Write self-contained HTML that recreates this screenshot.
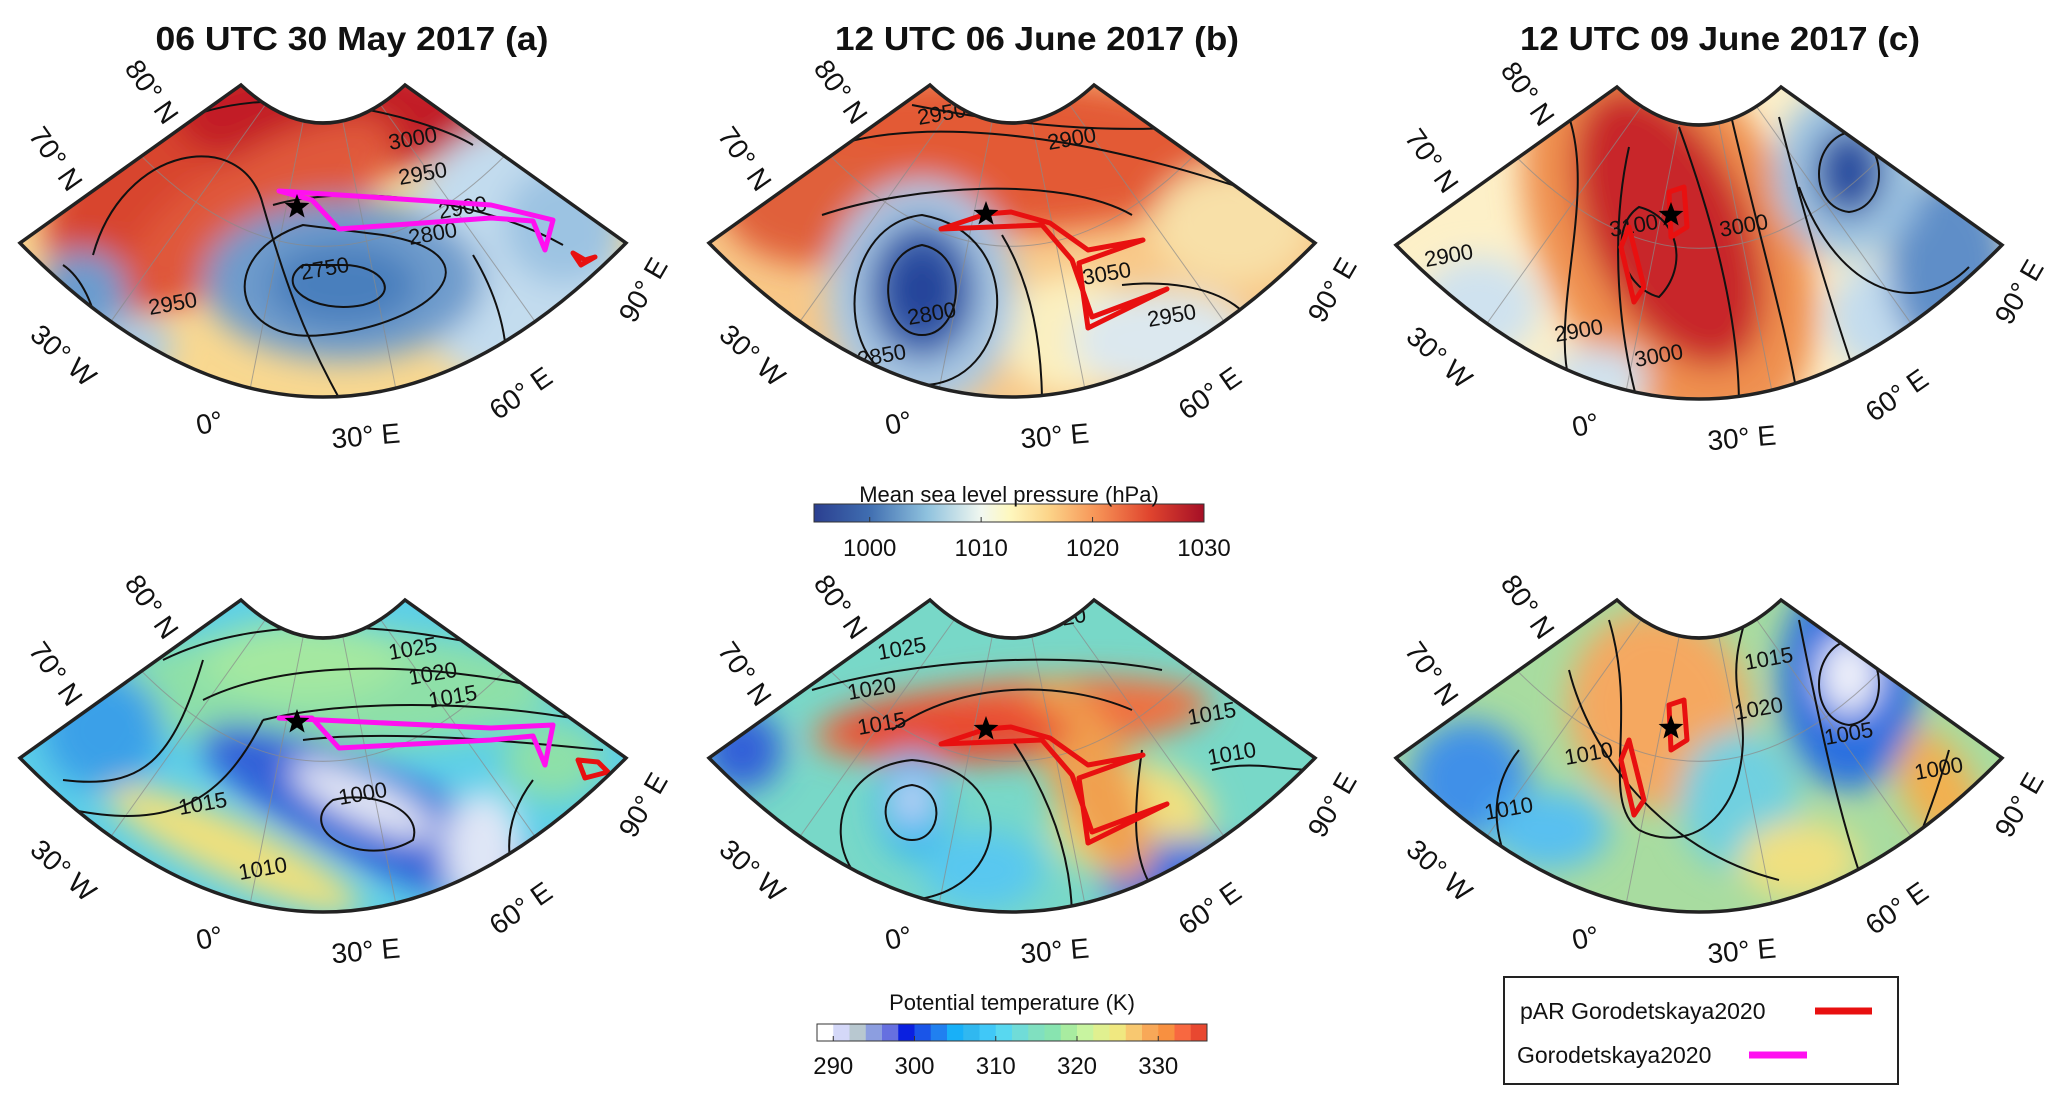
<!DOCTYPE html>
<html><head><meta charset="utf-8">
<style>
html,body{margin:0;padding:0;background:#fff;}
svg{display:block;font-family:"Liberation Sans",Arial,sans-serif;}
</style></head>
<body>
<svg id="fig" width="2067" height="1105" viewBox="0 0 2067 1105" xmlns="http://www.w3.org/2000/svg">
<defs>
<filter id="blur" x="-30%" y="-30%" width="160%" height="160%"><feGaussianBlur stdDeviation="16"/></filter>
<linearGradient id="mslpGrad" x1="0" x2="1" y1="0" y2="0">
<stop offset="0" stop-color="#2b3f90"/><stop offset="0.14" stop-color="#3f6db0"/>
<stop offset="0.29" stop-color="#8fc2de"/><stop offset="0.43" stop-color="#f2f8f0"/>
<stop offset="0.5" stop-color="#fef8c0"/><stop offset="0.6" stop-color="#fcd58a"/>
<stop offset="0.72" stop-color="#f79658"/><stop offset="0.86" stop-color="#e0452e"/>
<stop offset="1" stop-color="#a50f26"/>
</linearGradient>
</defs>
<g id="root"></g>
</svg>
<script>
// ---- colorbar data ----
const mslpTicks = [1000, 1010, 1020, 1030];
const mslpRange = [995, 1030];
const thetaTicks = [290, 300, 310, 320, 330];
const thetaBins = [288,290,292,294,296,298,300,302,304,306,308,310,312,314,316,318,320,322,324,326,328,330,332,334];
const thetaColors = ['#ffffff','#d4d8f8','#b8c8d0','#8c9ee0','#6670e0','#0a20e0','#1a55e8','#2080f0','#18b0f8','#30b8f0','#40c8f8','#58d8f0','#70dcd8','#80e0c0','#88e4b0','#a8eca0','#c8f4a0','#e0f090','#f0e880','#f8c870','#f8a858','#f89040','#f86840','#e84830'];

const NS = 'http://www.w3.org/2000/svg';
const root = document.getElementById('root');
function mk(tag, attrs, parent){
  const e = document.createElementNS(NS, tag);
  for (const k in attrs) e.setAttribute(k, attrs[k]);
  (parent||root).appendChild(e);
  return e;
}

// ---- panel definitions ----
const panels = [
 {id:'a-top', cx:323, top:85, bg:'#f9d890', title:'06 UTC  30 May 2017  (a)', tx:352, tw:393,
  blobs:[[-130,90,170,110,-40,'#d8452f'],[10,30,160,60,0,'#c21f27'],[-60,120,150,55,-30,'#e0583a'],
         [190,170,110,130,0,'#c3dcee'],[240,140,60,60,0,'#9cc3e2'],[20,195,140,80,0,'#6e9bcc'],[20,200,75,42,0,'#4a7fbd'],
         [-240,210,45,45,0,'#6b9ccf'],[-190,262,40,30,0,'#a9cbe6']],
  contours:['M-230,170 C-200,60 -80,40 -60,120 C-40,190 -20,250 20,320','M-150,40 C-60,-10 100,30 150,60','M-50,120 C20,100 150,110 240,160',
            'M-20,140 C-110,170 -90,260 0,250 C110,240 180,170 60,150 Z','M-20,180 C-50,200 -10,230 40,220 C80,210 60,180 20,180 Z','M150,170 C180,220 190,270 180,320','M-260,180 C-230,200 -225,250 -210,280'],
  nums:[['3000',90,55],['2950',100,90],['2900',140,124],['2800',110,150],['2750',2,185],['2950',-150,220]],
  mag:[[-44,106],[168,120],[230,135],[222,165],[210,136],[168,133],[16,144],[-11,115]],
  red:[[[250,168],[262,175],[272,172],[258,180]]], star:[-26,122]},
 {id:'b-top', cx:1012, top:85, bg:'#f8c888', title:'12 UTC  06 June 2017  (b)', tx:1037, tw:404,
  blobs:[[-50,70,290,80,0,'#e35a34'],[-200,120,90,60,0,'#e0603a'],[220,140,80,60,0,'#f8e0a8'],[60,250,70,60,0,'#fbf0c0'],
         [150,255,90,50,0,'#dce8ef'],[-90,210,95,115,0,'#a8c8e4'],[-90,205,55,70,0,'#3a62ad'],[-90,205,28,38,0,'#243f98']],
  contours:['M-200,70 C-120,30 50,40 250,110','M-100,20 C0,40 100,50 200,40','M-190,130 C-100,100 50,90 120,130','M-90,130 C-180,140 -180,300 -90,300 C0,300 20,150 -90,130 Z','M-90,160 C-140,170 -130,250 -90,250 C-50,250 -40,170 -90,160 Z','M-10,150 C20,200 30,260 30,320','M110,200 C200,190 280,230 230,300'],
  nums:[['2950',-70,30],['2900',60,55],['3050',95,190],['2800',-80,230],['2850',-130,272],['2950',160,232]],
  mag:null, red:[[[-71,144],[-26,129],[-1,127],[38,138],[76,165],[131,155],[67,178],[76,243],[155,204],[80,232],[60,175],[30,140]]], star:[-26,129]},
 {id:'c-top', cx:1699, top:87, bg:'#fdf0c8', title:'12 UTC  09 June 2017  (c)', tx:1720, tw:400,
  blobs:[[-30,150,130,210,-25,'#ef9050'],[-30,140,80,150,-25,'#c8252a'],[-220,220,60,50,0,'#cfe2ef'],[-100,290,50,30,0,'#cfe2ef'],
         [200,230,70,60,0,'#c3dcee'],[250,180,60,90,0,'#5e8ec8'],[150,85,75,85,0,'#9cc3e2'],[150,85,35,45,0,'#2c50a0']],
  contours:['M-130,30 C-100,120 -160,250 -120,320','M-70,60 C-90,150 -80,250 -60,320','M-20,40 C20,150 40,240 40,320','M30,20 C60,150 90,250 100,320','M80,30 C110,150 140,240 160,300','M-60,120 C-90,140 -80,200 -40,210 C-10,180 -20,130 -60,120 Z','M150,45 C110,55 110,120 150,125 C190,120 190,55 150,45 Z','M100,100 C140,210 220,230 270,180'],
  nums:[['3100',-65,140],['3000',45,140],['2900',-250,170],['2900',-120,245],['3000',-40,270]],
  mag:null, red:[[[-70,140],[-55,200],[-65,215],[-78,160]],[[-30,105],[-15,100],[-12,140],[-28,150]]], star:[-28,128]},
 {id:'a-bot', cx:323, top:600, bg:'#5ccfe8', title:null,
  blobs:[[0,90,230,60,0,'#8ee0a8'],[-20,60,100,40,0,'#a4e8a0'],[-90,250,140,30,25,'#f0e07c'],[-220,130,60,60,0,'#3aa0e8'],[230,160,50,40,0,'#8ee0a8'],
         [60,220,200,50,25,'#3060d8'],[40,200,80,22,25,'#e6eaf6'],[160,250,40,60,0,'#dfe6f6']],
  contours:['M-160,60 C-60,10 100,20 250,70','M-120,100 C-40,60 100,60 230,90','M-60,120 C20,100 150,100 260,120','M-20,140 C60,130 180,140 280,150','M-120,60 C-150,160 -180,190 -260,180','M-60,120 C-100,200 -150,230 -250,210','M10,200 C-30,230 40,270 90,240 C100,210 50,190 10,200 Z','M210,180 C180,220 180,260 200,300'],
  nums:[['1025',90,50],['1020',110,75],['1015',130,98],['1000',40,195],['1015',-120,205],['1010',-60,270]],
  mag:[[-44,118],[168,128],[230,125],[222,165],[210,136],[168,140],[16,148],[-11,118]],
  red:[[[255,160],[275,162],[285,172],[262,178]]], star:[-26,122]},
 {id:'b-bot', cx:1012, top:600, bg:'#78d8c8', title:null,
  blobs:[[120,220,80,60,0,'#f0e080'],[-30,270,60,40,0,'#58c8f0'],[170,280,80,40,0,'#3070e0'],[-270,150,40,40,0,'#3060d8'],
         [0,120,200,40,-5,'#f07040'],[80,180,40,110,-25,'#f0a050'],[-60,130,120,30,0,'#e84830'],[-100,205,35,55,0,'#3ab8f0'],[-100,200,15,25,0,'#cfd8f4']],
  contours:['M-200,90 C-100,60 50,50 150,70','M-120,130 C-50,80 50,80 120,110','M-100,160 C-200,170 -190,300 -100,300 C0,290 10,170 -100,160 Z','M-100,185 C-140,190 -130,240 -100,240 C-70,240 -65,190 -100,185 Z','M0,140 C40,200 60,260 60,320','M130,150 C120,220 120,270 150,300','M200,170 C240,160 270,170 300,170'],
  nums:[['1025',-110,50],['1020',-140,90],['1015',-130,125],['1015',200,115],['1010',220,155],['1020',50,20]],
  mag:null, red:[[[-71,144],[-26,129],[-1,127],[38,138],[76,165],[131,155],[67,178],[76,243],[155,204],[80,232],[60,175],[30,140]]], star:[-26,129]},
 {id:'c-bot', cx:1699, top:600, bg:'#a8dca0', title:null,
  blobs:[[-40,110,90,100,-15,'#f5a860'],[40,200,60,70,0,'#70d0e0'],[-230,180,60,60,0,'#4090e8'],[240,190,35,70,-30,'#f2b050'],[-150,230,60,40,0,'#58c0f0'],[100,260,60,40,0,'#f0e080'],
         [150,80,70,110,0,'#2c70e0'],[150,75,30,40,0,'#eef0fa']],
  contours:['M-90,20 C-60,120 -100,200 -60,230 C0,260 60,200 40,100 C30,50 50,20 50,0','M-130,70 C-110,150 -40,250 80,280','M100,20 C120,120 140,220 170,300','M150,40 C110,50 110,120 150,125 C190,120 190,50 150,40 Z','M250,150 C230,220 210,260 190,310','M-180,150 C-220,200 -200,260 -170,300'],
  nums:[['1015',70,60],['1020',60,110],['1005',150,135],['1010',-110,155],['1000',240,170],['1010',-190,210]],
  mag:null, red:[[[-70,140],[-55,200],[-65,215],[-78,160]],[[-30,105],[-15,100],[-12,140],[-28,150]]], star:[-28,128]}
];

function sectorPath(cx, top){
  return `M${cx-82},${top} Q${cx},${top+76} ${cx+82},${top} L${cx+303},${top+158} Q${cx},${top+466} ${cx-303},${top+158} Z`;
}
function q(p0,p1,p2,t){return (1-t)*(1-t)*p0+2*(1-t)*t*p1+t*t*p2;}

function starPath(x,y,r){
  let d='';
  for(let i=0;i<10;i++){
    const a=-Math.PI/2+i*Math.PI/5, rr=i%2?r*0.42:r;
    d+=(i?'L':'M')+(x+rr*Math.cos(a)).toFixed(1)+','+(y+rr*Math.sin(a)).toFixed(1);
  }
  return d+'Z';
}

panels.forEach((p,idx)=>{
  const g = mk('g',{});
  
  
  const cp = mk('clipPath',{id:'clip'+idx}, g);
  mk('path',{d:sectorPath(p.cx,p.top)}, cp);
  const inner = mk('g',{'clip-path':`url(#clip${idx})`}, g);
  const bg = mk('path',{d:sectorPath(p.cx,p.top), fill:p.bg}, inner);
  
  
  const bl = mk('g',{filter:'url(#blur)'}, inner);
  p.blobs.forEach(b=>{
    const e = mk('ellipse',{cx:p.cx+b[0], cy:p.top+b[1], rx:b[2], ry:b[3], fill:b[5], transform:`rotate(${b[4]} ${p.cx+b[0]} ${p.top+b[1]})`}, bl);
    
    
  });
  const gr = mk('g',{stroke:'#8a8a8a','stroke-width':1,fill:'none',opacity:0.7}, inner);
  [0.15,0.38,0.62,0.85].forEach(t=>{
    const ix=q(p.cx-82,p.cx,p.cx+82,t), iy=q(p.top,p.top+76,p.top,t);
    const ox=q(p.cx-303,p.cx,p.cx+303,t), oy=q(p.top+158,p.top+466,p.top+158,t);
    mk('line',{x1:ix,y1:iy,x2:ox,y2:oy}, gr);
  });
  [0.45].forEach(s=>{
    const lx=(p.cx-82)+s*(-221), ly=p.top+s*158, rx=(p.cx+82)+s*221;
    const sag=38+s*(154-38);
    mk('path',{d:`M${lx},${ly} Q${p.cx},${ly+2*sag} ${rx},${ly}`}, gr);
  });
  const cg = mk('g',{stroke:'#111',fill:'none','stroke-width':2}, inner);
  
  
  p.contours.forEach(d=>{
    const t = d.replace(/(-?\d+),(-?\d+)/g,(m,a,b)=>(p.cx+ +a)+','+(p.top+ +b));
    mk('path',{d:t}, cg);
  });
  p.nums.forEach(n=>{
    const t = mk('text',{x:p.cx+n[1], y:p.top+n[2], 'font-size':22, 'text-anchor':'middle', 'dominant-baseline':'middle', fill:'#111', transform:`rotate(-10 ${p.cx+n[1]} ${p.top+n[2]})`}, inner);
    t.textContent = n[0];
    
    
  });
  if(p.mag){
    const m = mk('polygon',{points:p.mag.map(v=>(p.cx+v[0])+','+(p.top+v[1])).join(' '), fill:'none', stroke:'#ff10f0','stroke-width':5,'stroke-linejoin':'round'}, inner);
    
    
  }
  p.red.forEach(r=>{
    const m = mk('polygon',{points:r.map(v=>(p.cx+v[0])+','+(p.top+v[1])).join(' '), fill:'none', stroke:'#e81010','stroke-width':5,'stroke-linejoin':'round'}, inner);
    
    
  });
  const st = mk('path',{d:starPath(p.cx+p.star[0], p.top+p.star[1], 13), fill:'#000'}, g);
  
  
  const fr = mk('path',{d:sectorPath(p.cx,p.top), fill:'none', stroke:'#222','stroke-width':3.5}, g);
  
  
  const lt = p.cx-323, tp = p.top-85;
  const labs = [['80° N',150,93,55],['70° N',54,160,55],['30° W',62,357,42],['0°',210,425,-12],['30° E',366,438,-5],['60° E',522,395,-35],['90° E',645,291,-60]];
  labs.forEach(l=>{
    const t = mk('text',{x:l[1]+lt, y:l[2]+tp, 'font-size':28, 'text-anchor':'middle','dominant-baseline':'middle', fill:'#111', transform:`rotate(${l[3]} ${l[1]+lt} ${l[2]+tp})`}, g);
    t.textContent = l[0];
    
    
  });
  if(p.title){
    const t = mk('text',{x:p.tx, y:50, 'font-size':33,'font-weight':'bold','text-anchor':'middle', fill:'#111', textLength:p.tw, lengthAdjust:'spacingAndGlyphs'}, g);
    t.textContent = p.title;
    
    
  }
});

// ---- MSLP colorbar ----
const mb = mk('g',{});


const mx0=814, mx1=1204;
const mX = v => mx0 + (v-mslpRange[0])/(mslpRange[1]-mslpRange[0])*(mx1-mx0);
mk('rect',{x:mx0,y:504,width:mx1-mx0,height:18,fill:'url(#mslpGrad)',stroke:'#333','stroke-width':1}, mb);
const mt = mk('text',{x:(mx0+mx1)/2,y:502,'font-size':22,'text-anchor':'middle',fill:'#111'}, mb);
mt.textContent='Mean sea level pressure (hPa)';


mslpTicks.forEach(v=>{
  mk('line',{x1:mX(v),x2:mX(v),y1:517,y2:522,stroke:'#333'}, mb);
  const t = mk('text',{x:mX(v),y:556,'font-size':24,'text-anchor':'middle',fill:'#111'}, mb);
  t.textContent = v;
  
  
});

// ---- theta colorbar ----
const tb = mk('g',{});


const tx0=817, tx1=1207, tmin=288, tmax=336;
const tX = v => tx0 + (v-tmin)/(tmax-tmin)*(tx1-tx0);
thetaBins.forEach((v,i)=>{
  const r = mk('rect',{x:tX(v),y:1024,width:tX(v+2)-tX(v)+0.5,height:17,fill:thetaColors[i]}, tb);
  
  
});
mk('rect',{x:tx0,y:1024,width:tx1-tx0,height:17,fill:'none',stroke:'#333','stroke-width':1}, tb);
const tt = mk('text',{x:(tx0+tx1)/2,y:1010,'font-size':22,'text-anchor':'middle',fill:'#111'}, tb);
tt.textContent='Potential temperature (K)';


thetaTicks.forEach(v=>{
  mk('line',{x1:tX(v),x2:tX(v),y1:1036,y2:1041,stroke:'#333'}, tb);
  const t = mk('text',{x:tX(v),y:1074,'font-size':24,'text-anchor':'middle',fill:'#111'}, tb);
  t.textContent = v;
  
  
});

// ---- legend ----
const lg = mk('g',{});


mk('rect',{x:1504,y:977,width:394,height:107,fill:'#fff',stroke:'#222','stroke-width':2}, lg);
const l1 = mk('text',{x:1520,y:1019,'font-size':23,fill:'#111'}, lg);
l1.textContent='pAR Gorodetskaya2020';


mk('line',{x1:1815,x2:1872,y1:1011,y2:1011,stroke:'#e81010','stroke-width':7}, lg);
const l2 = mk('text',{x:1517,y:1063,'font-size':23,fill:'#111'}, lg);
l2.textContent='Gorodetskaya2020';


mk('line',{x1:1749,x2:1807,y1:1055,y2:1055,stroke:'#ff10f0','stroke-width':7}, lg);
</script>
</body></html>
